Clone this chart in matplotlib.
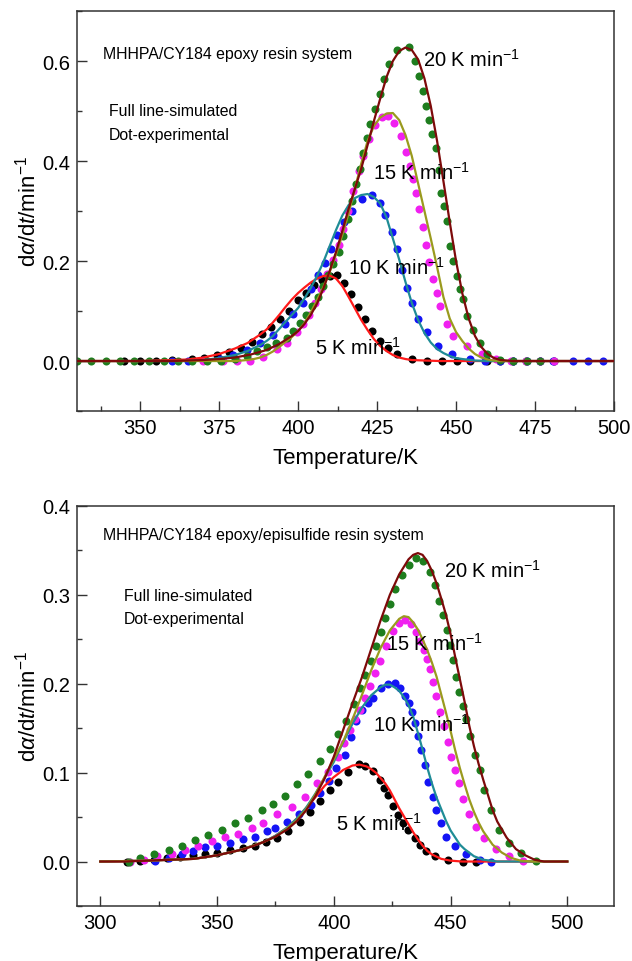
import matplotlib
matplotlib.use("Agg")
import matplotlib.pyplot as plt
from matplotlib.ticker import MultipleLocator, FormatStrFormatter

plt.rcParams['font.family'] = ['Liberation Sans', 'DejaVu Sans']
plt.rcParams['mathtext.fontset'] = 'custom'
plt.rcParams['mathtext.rm'] = 'Liberation Sans'
plt.rcParams['mathtext.it'] = 'Liberation Sans:italic'
plt.rcParams['mathtext.bf'] = 'Liberation Sans:bold'

rates = ['5', '10', '15', '20']

# ---------------- top panel: epoxy resin system ----------------
# simulated curves (T in K, dalpha/dt in 1/min)
a_T5 = [330, 340, 350, 355, 360, 365, 370, 375, 380, 384, 388, 390, 392, 394, 396, 398, 400, 402, 404, 406,
        408, 410, 412, 414, 416, 418, 420, 422, 424, 426, 428, 430, 432, 434, 436, 440, 445, 470, 500]
a_S5 = [0, 0, 0, 0.001, 0.002, 0.003, 0.007, 0.014, 0.025, 0.036, 0.053, 0.063, 0.077, 0.092, 0.108, 0.123,
        0.136, 0.147, 0.157, 0.165, 0.170, 0.171, 0.165, 0.150, 0.128, 0.105, 0.082, 0.062, 0.044, 0.030,
        0.020, 0.012, 0.007, 0.004, 0.002, 0.001, 0, 0, 0]
a_T10 = [330, 350, 365, 370, 375, 380, 384, 388, 390, 392, 394, 396, 398, 400, 402, 404, 406, 408, 410, 412,
         414, 416, 418, 420, 422, 424, 426, 428, 430, 432, 434, 436, 438, 440, 442, 444, 446, 448, 450, 452,
         456, 460, 480, 500]
a_S10 = [0, 0, 0, 0.002, 0.006, 0.012, 0.020, 0.032, 0.040, 0.050, 0.064, 0.078, 0.092, 0.106, 0.125, 0.146,
         0.170, 0.198, 0.230, 0.262, 0.291, 0.312, 0.326, 0.332, 0.334, 0.328, 0.315, 0.287, 0.245, 0.203,
         0.158, 0.116, 0.082, 0.056, 0.037, 0.024, 0.016, 0.010, 0.006, 0.004, 0.001, 0, 0, 0]
a_T15 = [330, 350, 370, 380, 382, 384, 386, 388, 390, 392, 394, 396, 398, 400, 402, 404, 406, 408, 410, 412,
         414, 416, 418, 420, 422, 424, 426, 428, 430, 432, 434, 436, 438, 440, 442, 444, 446, 448, 450, 452,
         454, 456, 458, 460, 462, 464, 480, 500]
a_S15 = [0, 0, 0, 0, 0.001, 0.002, 0.004, 0.007, 0.012, 0.019, 0.028, 0.038, 0.048, 0.060, 0.076, 0.097,
         0.122, 0.148, 0.178, 0.213, 0.252, 0.296, 0.345, 0.395, 0.440, 0.470, 0.487, 0.495, 0.496, 0.482,
         0.452, 0.410, 0.355, 0.300, 0.245, 0.188, 0.128, 0.085, 0.058, 0.040, 0.025, 0.014, 0.007, 0.003,
         0.001, 0, 0, 0]
a_T20 = [330, 350, 360, 365, 370, 375, 380, 385, 390, 392, 394, 396, 398, 400, 402, 404, 406, 408, 410, 412,
         414, 416, 418, 420, 422, 424, 426, 428, 430, 432, 434, 436, 438, 440, 442, 444, 446, 448, 450, 452,
         454, 456, 458, 460, 462, 464, 466, 468, 480, 500]
a_S20 = [0, 0, 0, 0.001, 0.002, 0.004, 0.007, 0.013, 0.022, 0.028, 0.034, 0.042, 0.050, 0.060, 0.074, 0.092,
         0.115, 0.145, 0.180, 0.218, 0.260, 0.305, 0.345, 0.385, 0.432, 0.480, 0.525, 0.568, 0.600, 0.620,
         0.627, 0.622, 0.603, 0.565, 0.510, 0.440, 0.360, 0.278, 0.200, 0.135, 0.085, 0.050, 0.028, 0.014,
         0.006, 0.002, 0.001, 0, 0, 0]

# experimental points
a_eT5 = [345, 350, 355, 360, 366.4, 370.3, 374.3, 378.2, 381.9, 385.3, 388.5, 391.4, 394.3, 397.2, 400.1,
         402.5, 405, 407.5, 410, 412.2, 414.5, 416.8, 419, 421.2, 423.3, 425.9, 428.5, 431.2, 436, 440.7,
         445.4, 450.2, 454.4, 459.7, 463.9, 468.1, 472.3, 476.6, 481]
a_E5 = [0, 0, 0.001, 0.002, 0.004, 0.007, 0.012, 0.019, 0.027, 0.039, 0.054, 0.069, 0.084, 0.100, 0.122,
        0.137, 0.152, 0.163, 0.170, 0.172, 0.156, 0.135, 0.108, 0.084, 0.060, 0.041, 0.026, 0.014, 0.004,
        0.001, 0, 0, 0, 0, 0, 0, 0, 0, 0]
a_eT10 = [360, 365, 370, 375.3, 379.5, 383.8, 388, 392.2, 395.9, 398.5, 401.7, 404.2, 406.4, 408.5, 410.5,
          412.4, 414.4, 417, 420.2, 423.3, 425.9, 427.6, 429.6, 431.2, 432.8, 434.4, 436, 438.1, 440.7, 444.4,
          448.6, 454.4, 459.2, 463.9, 468, 472.4, 476.6, 480.7, 487, 491.8, 496.5]
a_E10 = [0, 0.001, 0.002, 0.005, 0.012, 0.023, 0.037, 0.052, 0.074, 0.094, 0.117, 0.145, 0.172, 0.196,
         0.225, 0.253, 0.278, 0.300, 0.324, 0.332, 0.316, 0.292, 0.258, 0.224, 0.182, 0.146, 0.117, 0.085,
         0.058, 0.031, 0.014, 0.004, 0.001, 0, 0, 0, 0, 0, 0, 0, 0]
a_eT15 = [370, 376.3, 380.5, 384.8, 389, 393.2, 396.4, 399.5, 401.5, 403.3, 405.4, 407.3, 409, 411, 412.8,
          414.3, 415.9, 417.5, 419.2, 420.7, 422.5, 424.5, 426.5, 428.5, 430.5, 432.6, 434.2, 435.5, 436.5,
          437.4, 438.2, 439.5, 440.5, 441.5, 442.8, 443.9, 444.9, 447, 449.1, 453.4, 458.1, 462.8, 467.5,
          472, 476.5, 481]
a_E15 = [0, 0, 0, 0.001, 0.008, 0.024, 0.037, 0.058, 0.075, 0.092, 0.117, 0.145, 0.174, 0.203, 0.232, 0.264,
         0.300, 0.340, 0.380, 0.410, 0.445, 0.472, 0.488, 0.490, 0.477, 0.451, 0.419, 0.390, 0.365, 0.337,
         0.305, 0.268, 0.232, 0.198, 0.164, 0.137, 0.111, 0.074, 0.051, 0.031, 0.014, 0.004, 0.001, 0, 0, 0]
a_eT20 = [330, 334.4, 339.1, 343.7, 348.2, 352.8, 357.4, 361.9, 366.5, 371.1, 375.5, 380, 383.8, 387, 390,
          393, 396.4, 398.5, 400.5, 402.5, 404.5, 406.2, 407.8, 409.5, 411.2, 412.8, 414.3, 415.9, 417.2,
          418.4, 419.5, 420.6, 421.7, 422.8, 424.4, 425.9, 427.2, 428.7, 431.2, 435, 437, 438.3, 439.4, 440.5,
          441.5, 442.4, 443.6, 444.5, 445.2, 446.3, 447.2, 448.1, 449, 450.2, 451.3, 452.3, 453.4, 455.5,
          457.6, 459.7, 463.9, 468, 472.5, 476.6]
a_E20 = [0, 0, 0, 0, 0, 0, 0, 0, 0, 0, 0.001, 0.004, 0.010, 0.020, 0.028, 0.036, 0.047, 0.060, 0.076, 0.092,
         0.110, 0.128, 0.150, 0.172, 0.195, 0.218, 0.250, 0.284, 0.320, 0.355, 0.385, 0.417, 0.447, 0.474,
         0.505, 0.534, 0.564, 0.594, 0.622, 0.629, 0.600, 0.570, 0.541, 0.511, 0.482, 0.454, 0.427, 0.382,
         0.337, 0.310, 0.281, 0.231, 0.200, 0.171, 0.145, 0.124, 0.091, 0.062, 0.037, 0.014, 0.002, 0, 0, 0]

# ---------------- bottom panel: epoxy/episulfide resin system ----------------
b_T5 = [300, 320, 330, 340, 350, 360, 370, 375, 380, 384, 388, 392, 396, 400, 404, 408, 411, 414, 416, 418,
        420, 422, 424, 426, 428, 430, 432, 434, 436, 438, 440, 442, 446, 450, 455, 500]
b_S5 = [0, 0.001, 0.002, 0.003, 0.007, 0.013, 0.022, 0.029, 0.038, 0.048, 0.060, 0.072, 0.085, 0.095, 0.103,
        0.108, 0.109, 0.107, 0.104, 0.100, 0.094, 0.088, 0.080, 0.070, 0.060, 0.051, 0.042, 0.033, 0.025,
        0.018, 0.012, 0.008, 0.003, 0.001, 0, 0]
b_T10 = [300, 320, 330, 340, 350, 360, 370, 375, 380, 384, 388, 392, 396, 400, 404, 408, 412, 416, 420, 422,
         424, 426, 428, 430, 432, 434, 436, 438, 440, 442, 444, 446, 448, 450, 452, 454, 456, 460, 464, 470, 500]
b_S10 = [0, 0.001, 0.002, 0.003, 0.007, 0.013, 0.022, 0.029, 0.038, 0.048, 0.060, 0.076, 0.094, 0.112, 0.134,
         0.155, 0.173, 0.187, 0.196, 0.199, 0.199, 0.196, 0.192, 0.185, 0.176, 0.163, 0.145, 0.126, 0.106,
         0.088, 0.072, 0.059, 0.046, 0.035, 0.027, 0.019, 0.014, 0.006, 0.002, 0, 0]
b_T15 = [300, 320, 330, 340, 350, 360, 370, 375, 380, 384, 388, 392, 396, 400, 404, 408, 412, 416, 420, 424,
         428, 430, 432, 434, 436, 438, 440, 442, 444, 446, 448, 450, 452, 454, 456, 458, 460, 462, 464, 468,
         472, 476, 480, 485, 500]
b_S15 = [0, 0.001, 0.002, 0.003, 0.007, 0.013, 0.022, 0.028, 0.037, 0.046, 0.058, 0.075, 0.095, 0.115, 0.135,
         0.160, 0.187, 0.215, 0.240, 0.260, 0.273, 0.276, 0.275, 0.269, 0.261, 0.250, 0.238, 0.224, 0.208,
         0.188, 0.168, 0.147, 0.125, 0.105, 0.087, 0.070, 0.056, 0.044, 0.034, 0.019, 0.010, 0.004, 0.001,
         0, 0]
b_T20 = [300, 310, 320, 330, 340, 350, 355, 360, 365, 370, 375, 380, 384, 388, 392, 396, 400, 404, 408, 412,
         416, 420, 424, 428, 432, 434, 436, 438, 440, 442, 444, 446, 448, 450, 452, 454, 456, 458, 460, 462,
         464, 466, 468, 470, 474, 478, 482, 486, 490, 500]
b_S20 = [0, 0, 0.001, 0.002, 0.003, 0.007, 0.010, 0.013, 0.017, 0.022, 0.028, 0.036, 0.045, 0.057, 0.073,
         0.093, 0.118, 0.148, 0.178, 0.207, 0.239, 0.271, 0.300, 0.323, 0.340, 0.345, 0.347, 0.345, 0.338,
         0.327, 0.313, 0.296, 0.278, 0.256, 0.230, 0.205, 0.180, 0.153, 0.130, 0.110, 0.092, 0.075, 0.058,
         0.045, 0.027, 0.014, 0.007, 0.002, 0, 0]

b_eT5 = [311.5, 317.1, 322.8, 328.5, 334.2, 339.9, 344.9, 349.9, 355.6, 361.2, 366.2, 371, 375.5, 380.5,
         385.5, 389.7, 394.2, 398.3, 401.8, 406.1, 410.6, 413.5, 416.8, 419.7, 421.5, 423.2, 425.5, 427.5,
         429.6, 431.8, 434.6, 436.8, 439.6, 443.2, 448.8, 455.3, 461]
b_E5 = [0, 0.001, 0.002, 0.004, 0.005, 0.007, 0.009, 0.010, 0.013, 0.015, 0.018, 0.022, 0.027, 0.034, 0.045,
        0.056, 0.068, 0.081, 0.090, 0.101, 0.110, 0.108, 0.102, 0.092, 0.083, 0.075, 0.062, 0.052, 0.043,
        0.036, 0.027, 0.019, 0.012, 0.006, 0.002, 0, 0]
b_eT10 = [323.5, 329.2, 334.9, 339.9, 344.9, 350, 355.6, 361.2, 366.2, 371.2, 374.8, 379.8, 385, 390.4, 394,
          398, 401.1, 404.7, 407.5, 409.7, 412.2, 414.5, 416.8, 420.4, 423.3, 426.1, 428.3, 430.3, 432, 433.5,
          434.8, 436, 437.5, 438.9, 440.3, 442.5, 443.9, 446, 448.1, 451.7, 456.7, 462.4, 467.4]
b_E10 = [0.001, 0.004, 0.009, 0.012, 0.016, 0.018, 0.021, 0.025, 0.028, 0.034, 0.038, 0.045, 0.054, 0.064,
         0.077, 0.091, 0.105, 0.120, 0.140, 0.158, 0.170, 0.178, 0.184, 0.195, 0.200, 0.201, 0.195, 0.186,
         0.178, 0.168, 0.156, 0.141, 0.125, 0.109, 0.090, 0.073, 0.058, 0.043, 0.028, 0.017, 0.008, 0.002, 0]
b_eT15 = [312.8, 318.5, 324.2, 330.6, 336.3, 342, 347.7, 353.4, 359.1, 364.8, 369.8, 375.5, 381.9, 387.6,
          392.6, 397.6, 401.8, 404.5, 406.9, 409.2, 411.3, 413.2, 415.5, 417.5, 419.7, 422.5, 425.4, 427.8,
          430.5, 433.2, 435.2, 437, 438.6, 440, 441.3, 442.6, 443.9, 445.6, 447.4, 449, 450.4, 451.8, 453.8,
          455.5, 458.1, 460.9, 464.5, 469.5, 475.2, 481]
b_E15 = [0, 0.002, 0.006, 0.009, 0.013, 0.018, 0.023, 0.028, 0.031, 0.038, 0.043, 0.053, 0.061, 0.073,
         0.088, 0.101, 0.118, 0.133, 0.148, 0.160, 0.170, 0.184, 0.198, 0.212, 0.226, 0.243, 0.259, 0.268,
         0.272, 0.267, 0.258, 0.248, 0.238, 0.228, 0.217, 0.202, 0.186, 0.168, 0.152, 0.134, 0.118, 0.103,
         0.088, 0.070, 0.053, 0.039, 0.026, 0.014, 0.006, 0.001]
b_eT20 = [312.1, 317.1, 322.8, 329.2, 334.9, 340.6, 346.3, 352, 357.7, 363.4, 369.1, 374.1, 379.1, 384.1, 389,
          394, 398.3, 401.8, 405.2, 408.5, 411.2, 413.5, 415.8, 418, 420, 422, 424, 426.3, 429, 432, 435,
          438.2, 441, 443.2, 445.2, 446.8, 448.5, 449.8, 451, 452.3, 453.8, 455.3, 456.7, 458.2, 460.5, 462.4,
          464.5, 467.4, 470.9, 475.2, 480.2, 486.6]
b_E20 = [0, 0.004, 0.009, 0.013, 0.018, 0.024, 0.030, 0.036, 0.043, 0.049, 0.058, 0.065, 0.074, 0.087, 0.098,
         0.113, 0.127, 0.143, 0.158, 0.177, 0.195, 0.210, 0.226, 0.242, 0.258, 0.274, 0.290, 0.307, 0.322,
         0.334, 0.341, 0.338, 0.326, 0.311, 0.293, 0.277, 0.261, 0.244, 0.227, 0.208, 0.191, 0.175, 0.160,
         0.141, 0.120, 0.103, 0.081, 0.058, 0.036, 0.021, 0.010, 0.001]

dot_colors = ['#000000', '#1414f5', '#f020f0', '#1e7d1e']
line_colors = ['#ff1a1a', '#1f8c96', '#9a9a1e', '#7d0a0a']

fig = plt.figure(figsize=(6.32, 9.62), dpi=100)
ax1 = fig.add_axes([0.1218, 0.5717, 0.8497, 0.4158])
ax2 = fig.add_axes([0.1218, 0.0572, 0.8497, 0.4158])


def draw(ax, dots, lines, labels):
    for (t, e), c in zip(dots, dot_colors):
        ax.plot(t, e, 'o', ms=5.8, color=c, mec='none', zorder=2)
    for (t, s), c in zip(lines, line_colors):
        ax.plot(t, s, '-', lw=1.6, color=c, zorder=3)
    for r, (x, y) in zip(rates, labels):
        ax.text(x, y, r + r' K min$^{-1}$', fontsize=14.5, ha='left', va='center', zorder=4)
    ax.tick_params(which='both', direction='in', top=False, right=False, color='#333333', width=1)
    ax.tick_params(which='major', length=7, labelsize=14.5, pad=5)
    ax.tick_params(which='minor', length=3.5)
    for sp in ax.spines.values():
        sp.set_color('#333333')
        sp.set_linewidth(1.1)
    ax.set_xlabel('Temperature/K', fontsize=16, labelpad=7)
    ax.set_ylabel(r'd$\alpha$/d$t$/min$^{-1}$', fontsize=16, labelpad=1)
    ax.yaxis.set_major_formatter(FormatStrFormatter('%.1f'))


draw(ax1,
     [(a_eT5, a_E5), (a_eT10, a_E10), (a_eT15, a_E15), (a_eT20, a_E20)],
     [(a_T5, a_S5), (a_T10, a_S10), (a_T15, a_S15), (a_T20, a_S20)],
     [(405.4, 0.028), (415.9, 0.188), (423.8, 0.378), (439.6, 0.604)])
ax1.set_xlim(330, 500)
ax1.set_ylim(-0.1, 0.7)
ax1.xaxis.set_major_locator(MultipleLocator(25))
ax1.xaxis.set_minor_locator(MultipleLocator(12.5))
ax1.yaxis.set_major_locator(MultipleLocator(0.2))
ax1.yaxis.set_minor_locator(MultipleLocator(0.1))
ax1.text(0.048, 0.895, 'MHHPA/CY184 epoxy resin system', transform=ax1.transAxes, fontsize=11.4, va='center')
ax1.text(0.060, 0.751, 'Full line-simulated', transform=ax1.transAxes, fontsize=11.4, va='center')
ax1.text(0.060, 0.691, 'Dot-experimental', transform=ax1.transAxes, fontsize=11.4, va='center')

draw(ax2,
     [(b_eT5, b_E5), (b_eT10, b_E10), (b_eT15, b_E15), (b_eT20, b_E20)],
     [(b_T5, b_S5), (b_T10, b_S10), (b_T15, b_S15), (b_T20, b_S20)],
     [(401.1, 0.044), (416.8, 0.155), (422.5, 0.246), (447.4, 0.328)])
ax2.set_xlim(290, 520)
ax2.set_ylim(-0.05, 0.4)
ax2.xaxis.set_major_locator(MultipleLocator(50))
ax2.xaxis.set_minor_locator(MultipleLocator(25))
ax2.yaxis.set_major_locator(MultipleLocator(0.1))
ax2.yaxis.set_minor_locator(MultipleLocator(0.05))
ax2.text(0.048, 0.928, 'MHHPA/CY184 epoxy/episulfide resin system', transform=ax2.transAxes,
         fontsize=11.4, va='center')
ax2.text(0.088, 0.776, 'Full line-simulated', transform=ax2.transAxes, fontsize=11.4, va='center')
ax2.text(0.088, 0.7175, 'Dot-experimental', transform=ax2.transAxes, fontsize=11.4, va='center')

fig.savefig('out.png', dpi=100)
